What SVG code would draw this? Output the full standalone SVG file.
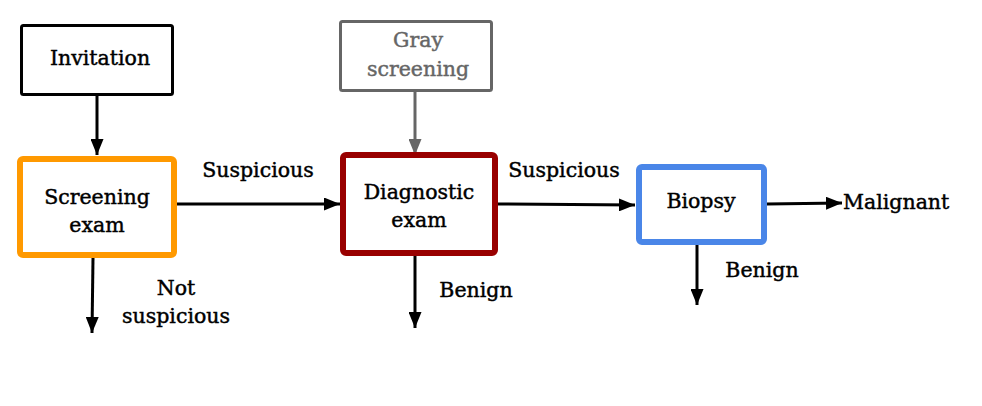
<svg xmlns="http://www.w3.org/2000/svg" width="982" height="406" viewBox="0 0 982 406">
<defs>
<style>
text{font-family:"DejaVu Serif","Liberation Serif",serif;font-size:20.5px;fill:#000;stroke:#000;stroke-width:0.45;text-anchor:middle;dominant-baseline:central}
text.g{fill:#666;stroke:#666}
.box{fill:#fff}
.edge{stroke:#000;stroke-width:3;fill:none}
.gray{stroke:#666}
</style>
<marker id="ah" viewBox="0 0 16 13" refX="16" refY="6.5" markerWidth="16" markerHeight="13" markerUnits="userSpaceOnUse" orient="auto"><path d="M0,0L16,6.5L0,13z" fill="#000"/></marker>
<marker id="ahg" viewBox="0 0 16 13" refX="16" refY="6.5" markerWidth="16" markerHeight="13" markerUnits="userSpaceOnUse" orient="auto"><path d="M0,0L16,6.5L0,13z" fill="#666"/></marker>
</defs>
<rect width="982" height="406" fill="#fff"/>
<g id="connectors">
<path class="edge" d="M97,96V155" marker-end="url(#ah)"/>
<path class="edge" d="M177,204H340" marker-end="url(#ah)"/>
<path class="edge" d="M93,258L92,333" marker-end="url(#ah)"/>
<path class="edge gray" d="M415,92V155" marker-end="url(#ahg)"/>
<path class="edge" d="M498,204L635,205" marker-end="url(#ah)"/>
<path class="edge" d="M415,256V328" marker-end="url(#ah)"/>
<path class="edge" d="M767,204L842,203" marker-end="url(#ah)"/>
<path class="edge" d="M697,245V305" marker-end="url(#ah)"/>
<text x="258" y="170">Suspicious</text>
<text x="176" y="288">Not</text>
<text x="176" y="316">suspicious</text>
<text x="564" y="170">Suspicious</text>
<text x="476" y="290">Benign</text>
<text x="762" y="270">Benign</text>
<text x="843" y="202" style="text-anchor:start">Malignant</text>
</g>
<g id="invitation">
<rect class="box" x="21.5" y="25.5" width="151" height="69" rx="2" stroke="#000" stroke-width="3"/>
<text x="100" y="58">Invitation</text>
</g>
<g id="screening-exam">
<rect class="box" x="20" y="159" width="154" height="96" rx="3" stroke="#ff9900" stroke-width="6"/>
<text x="97" y="197">Screening</text>
<text x="97" y="225">exam</text>
</g>
<g id="gray-screening">
<rect class="box" x="340.5" y="21.5" width="151" height="69" rx="2" stroke="#666" stroke-width="3"/>
<text class="g" x="418" y="40">Gray</text>
<text class="g" x="418" y="69">screening</text>
</g>
<g id="diagnostic-exam">
<rect class="box" x="343" y="155" width="152" height="98" rx="3" stroke="#990000" stroke-width="6"/>
<text x="419" y="192">Diagnostic</text>
<text x="419" y="220">exam</text>
</g>
<g id="biopsy">
<rect class="box" x="639" y="167" width="125" height="75" rx="3" stroke="#4a86e8" stroke-width="6"/>
<text x="701" y="201">Biopsy</text>
</g>
</svg>
